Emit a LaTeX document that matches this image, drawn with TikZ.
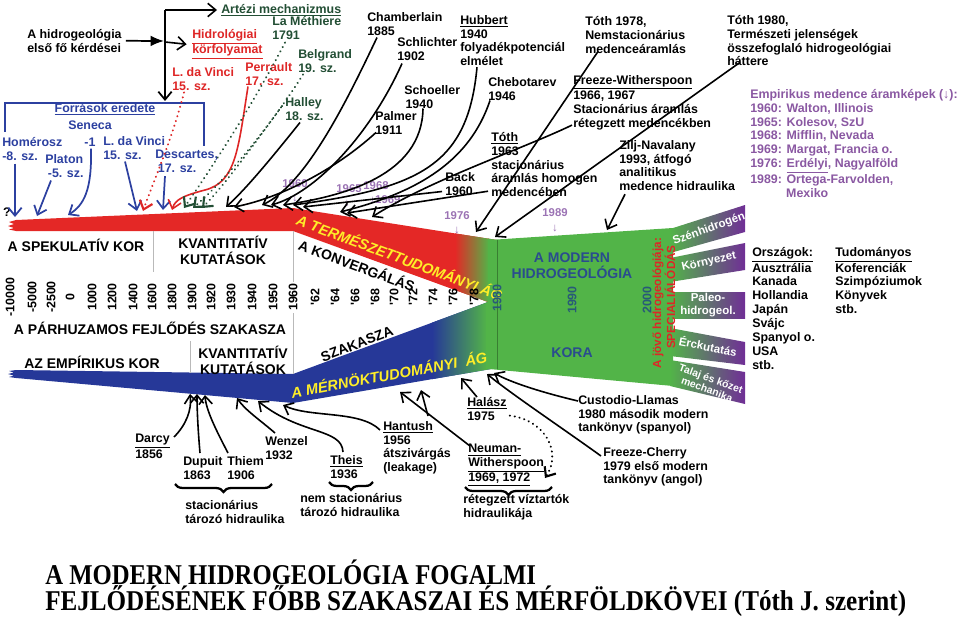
\documentclass[tikz,border=0pt]{standalone}
\usepackage{fontspec}
\usetikzlibrary{arrows.meta,decorations.pathreplacing}
\newfontfamily\lab{Liberation Sans}
\newfontfamily\ttl{Liberation Serif}
\definecolor{bred}{RGB}{228,40,38}
\definecolor{bgreen}{RGB}{82,180,72}
\definecolor{bblue}{RGB}{38,56,152}
\definecolor{bpurple}{RGB}{112,46,150}
\definecolor{tblue}{RGB}{44,64,160}
\definecolor{tred}{RGB}{222,38,38}
\definecolor{dgreen}{RGB}{34,78,52}
\definecolor{lpurple}{RGB}{155,115,180}
\definecolor{epurple}{RGB}{138,88,162}
\definecolor{mblue}{RGB}{42,76,142}
\definecolor{yel}{RGB}{255,238,40}
\definecolor{yteal}{RGB}{40,90,120}
\begin{document}
\begin{tikzpicture}[x=0.75pt,y=-0.75pt,
  lbl/.style={font=\lab\bfseries\fontsize{9.3}{10.4}\selectfont, inner sep=0pt, align=left, anchor=north west},
  big/.style={font=\lab\bfseries\fontsize{10.5}{12}\selectfont, inner sep=0pt, align=center},
  yrl/.style={font=\lab\bfseries\fontsize{9.3}{10}\selectfont, inner sep=0pt, rotate=90},
  pyr/.style={font=\lab\bfseries\fontsize{8.5}{9}\selectfont, inner sep=0pt, text=lpurple},
  brl/.style={font=\lab\bfseries\fontsize{8.6}{9.4}\selectfont, inner sep=0pt, text=white, align=center},
  tip/.style={-{Straight Barb[length=6pt,width=10pt]}},
  karr/.style={draw=black, line width=1.2pt, tip},
  barr/.style={draw=tblue, line width=1.3pt, tip},
  rarr/.style={draw=tred, line width=1.2pt, tip},
  dotk/.style={line width=1.6pt, dash pattern=on 0.1pt off 3.6pt, line cap=round, tip},
  brc/.style={line width=1.7pt, decorate, decoration={brace, amplitude=6pt, mirror}},
  gline/.style={draw=gray!55, line width=0.6pt}]
\useasboundingbox (0,0) rectangle (960,617);

% ---------------- bands ----------------
\fill[bred] (16,220) -- (293,208) -- (497,240) -- (497,302) -- (488,302) -- (293,231) -- (16,231) -- (9,229.5) -- (14,228) -- (8,226) -- (14,224) -- (9,222) -- cycle;
\fill[bblue] (16,370) -- (293,374) -- (488,302) -- (497,302) -- (497,368) -- (293,403) -- (16,378) -- (9,377) -- (14,375.5) -- (8,374) -- (14,372.5) -- (9,371) -- cycle;
\begin{scope}
  \clip (293,208) -- (497,240) -- (497,302) -- (488,302) -- (293,231) -- cycle;
  \shade[left color=bred, right color=bgreen] (455,195) rectangle (489,310);
  \fill[bgreen] (488,195) rectangle (500,310);
\end{scope}
\begin{scope}
  \clip (293,374) -- (488,302) -- (497,302) -- (497,368) -- (293,403) -- cycle;
  \shade[left color=bblue, right color=bgreen] (432,290) rectangle (487,410);
  \fill[bgreen] (486,290) rectangle (500,410);
\end{scope}
\fill[bgreen] (489,240) -- (673,228) -- (673,386) -- (489,369) -- cycle;
\draw[bgreen!70!black, line width=0.5pt] (497,240) -- (497,369);
% branches
\shade[left color=bgreen, right color=bpurple] (670,229) -- (745,205) -- (745,232) -- (670,253) -- cycle;
\shade[left color=bgreen, right color=bpurple] (670,258) -- (745,243) -- (745,270) -- (670,282) -- cycle;
\shade[left color=bgreen, right color=bpurple] (670,292) -- (745,292) -- (745,318) -- (670,318) -- cycle;
\shade[left color=bgreen, right color=bpurple] (670,328) -- (745,342) -- (745,365) -- (670,356) -- cycle;
\shade[left color=bgreen, right color=bpurple] (670,360) -- (745,372) -- (745,404) -- (670,386) -- cycle;

% gray separators
\draw[gline] (153,231) -- (153,272);
\draw[gline] (293,231) -- (293,282);
\draw[gline] (293,313) -- (293,374);
\draw[gline] (190,341) -- (190,373);

% ---------------- band texts ----------------
\node[big] (spek) at (76,245) {A SPEKULATÍV KOR};
\node[big] (kv1) at (223,250) {KVANTITATÍV\\KUTATÁSOK};
\node[big] (parh) at (150,328) {A PÁRHUZAMOS FEJLŐDÉS SZAKASZA};
\node[big] (empk) at (92,362) {AZ EMPÍRIKUS KOR};
\node[big] (kv2) at (243,360) {KVANTITATÍV\\KUTATÁSOK};
\node[big, rotate=-20.5] (konv) at (357,265) {A KONVERGÁLÁS};
\node[big, rotate=21] (szak) at (357,344) {SZAKASZA};
\node[font=\lab\bfseries\itshape\fontsize{11}{12}\selectfont, inner sep=0pt, text=yel, rotate=-20.5] (termesz) at (400,257) {A TERMÉSZETTUDOMÁNYI ÁG};
\node[font=\lab\bfseries\itshape\fontsize{11}{12}\selectfont, inner sep=0pt, text=yel, rotate=10.5] (merno) at (389,374) {A MÉRNÖKTUDOMÁNYI\ \ ÁG};

% years
\foreach \yx/\yt in {10/-10000,32/-5000,51/-2500,70/0,92/1000,112/1200,133/1400,152/1600,172/1800,192/1900,211/1920,231/1930,252/1940,273/1950,293/1960,315/'62,335/'64,355/'66,375/'68,394/'70,413/'72,433/'74,453/'76,474/'78}
  \node[yrl] (yr\yx) at (\yx,297) {\yt};
\node[yrl, text=yteal] (y1980) at (497,298) {1980};
\node[yrl, text=yteal] (y1990) at (572,300) {1990};
\node[yrl, text=yteal] (y2000) at (647,300) {2000};
\node[font=\lab\bfseries\fontsize{8.8}{9.5}\selectfont, inner sep=0pt, text=tred, rotate=90] (jovo) at (658,303) {A jövő hidrogeológiája:};
\node[font=\lab\bfseries\fontsize{8.8}{9.5}\selectfont, inner sep=0pt, text=tred, rotate=90] (spec) at (670,297) {SPECIALIÁLÓDÁS};
\node[big, text=mblue] (modern) at (572,266) {A MODERN\\HIDROGEOLÓGIA};
\node[big, text=mblue] (kora) at (572,353) {KORA};

% branch labels
\node[brl, rotate=20] (szh) at (709,229) {Szénhidrogén};
\node[brl, rotate=13] (korny) at (709,262) {Környezet};
\node[brl] (paleo) at (708,305) {Paleo-\\hidrogeol.};
\node[brl, rotate=-11] (erc) at (708,346) {Érckutatás};
\node[brl, rotate=-20, font=\lab\bfseries\fontsize{7.8}{8.4}\selectfont] (talaj) at (709,384) {Talaj és kőzet\\mechanika};

% purple year markers
\node[pyr] (p60) at (295,184) {1960};
\node[pyr] (p60a) at (295,198) {↓};
\node[pyr] (p65) at (349,189) {1965};
\node[pyr] (p65a) at (347,203) {↓};
\node[pyr] (p68) at (376,186) {1968};
\node[pyr] (p69) at (385,200) {↓1969};
\node[pyr] (p76) at (457,216) {1976};
\node[pyr] (p76a) at (457,230) {↓};
\node[pyr] (p89) at (555,213) {1989};
\node[pyr] (p89a) at (555,228) {↓};

% ---------------- top-left labels ----------------
\node[lbl] (hq) at (27,29) {A hidrogeológia\\első fő kérdései};
\node[lbl, anchor=west, text=dgreen] (artezi) at (221,10) {\underline{Artézi mechanizmus}};
\node[lbl, text=tred] (hidro) at (192,29) {\underline{Hidrológiai}\\\underline{körfolyamat}};
\node[lbl, text=tred] (vinciR) at (172,67) {L. da Vinci\\15. sz.};
\node[lbl, text=tred] (perr) at (245,62) {Perrault\\17. sz.};
\node[lbl, text=dgreen] (meth) at (272,16) {La Méthiere\\1791};
\node[lbl, text=dgreen] (belg) at (298,49) {Belgrand\\19. sz.};
\node[lbl, text=dgreen] (halley) at (285,97) {Halley\\18. sz.};
\node[lbl, anchor=center, text=tblue] (forr) at (105,109) {\underline{Források eredete}};
\node[lbl, text=tblue] (seneca) at (68,121) {Seneca};
\node[lbl, text=tblue, anchor=center] (sen1) at (90,142) {-1};
\node[lbl, text=tblue] (homer) at (2,137) {Homérosz\\-8. sz.};
\node[lbl, text=tblue] (platon) at (45,154) {Platon\\\hspace{2pt}-5. sz.};
\node[lbl, text=tblue] (vinciB) at (103,136) {L. da Vinci\\15. sz.};
\node[lbl, text=tblue] (desc) at (155,150) {Descartes,\\\hspace{2pt}17. sz.};
\node[lbl, anchor=center] (qm) at (7,212) {?};

% ---------------- top labels ----------------
\node[lbl] (chamb) at (367,12) {Chamberlain\\1885};
\node[lbl] (schl) at (397,37) {Schlichter\\1902};
\node[lbl] (hubb) at (460,15) {\underline{Hubbert}\\1940\\folyadékpotenciál\\elmélet};
\node[lbl] (schoe) at (404,85) {Schoeller\\\hspace{1pt}1940};
\node[lbl] (palmer) at (375,111) {Palmer\\1911};
\node[lbl] (cheb) at (488,77) {Chebotarev\\1946};
\node[lbl] (back) at (445,172) {Back\\1960};
\node[lbl] (toth63) at (491,132) {\underline{Tóth}\\1963\\stacionárius\\áramlás homogen\\medencében};
\node[lbl] (toth78) at (585,16) {Tóth 1978,\\Nemstacionárius\\medenceáramlás};
\node[lbl] (toth80) at (727,15) {Tóth 1980,\\Természeti jelenségek\\összefoglaló hidrogeológiai\\háttere};
\node[lbl] (fw) at (573,75) {\underline{Freeze-Witherspoon}\\1966, 1967\\Stacionárius áramlás\\rétegzett medencékben};
\node[lbl] (zilj) at (619,140) {Zilj-Navalany\\1993, átfogó\\analitikus\\medence hidraulika};
\node[lbl, text=epurple] (emp) at (750,89) {Empirikus medence áramképek (↓):\\1960: Walton, Illinois\\1965: Kolesov, SzU\\1968: Mifflin, Nevada\\1969: Margat, Francia o.\\1976: \underline{Erdélyi}, Nagyalföld\\1989: Ortega-Farvolden,\\\hspace{2.9em}Mexiko};

% right lists
\node[lbl] (orsz) at (752,247) {\underline{Országok:}\\Ausztrália\\Kanada\\Hollandia\\Japán\\Svájc\\Spanyol o.\\USA\\stb.};
\node[lbl] (tud) at (835,247) {\underline{Tudományos}\\Koferenciák\\Szimpóziumok\\Könyvek\\stb.};

% ---------------- bottom labels ----------------
\node[lbl] (darcy) at (135,434) {\underline{Darcy}\\1856};
\node[lbl] (dupuit) at (183,456) {Dupuit\\1863};
\node[lbl] (thiem) at (227,456) {Thiem\\1906};
\node[lbl] (wenzel) at (265,436) {Wenzel\\1932};
\node[lbl] (stat) at (185,500) {stacionárius\\tározó hidraulika};
\node[lbl] (theis) at (330,455) {\underline{Theis}\\1936};
\node[lbl] (nemstat) at (300,493) {nem stacionárius\\tározó hidraulika};
\node[lbl] (hantush) at (383,421) {\underline{Hantush}\\1956\\átszivárgás\\(leakage)};
\node[lbl] (halasz) at (467,397) {\underline{Halász}\\1975};
\node[lbl] (neuman) at (468,444) {\underline{Neuman-}\\\underline{Witherspoon}\\\underline{1969, 1972}};
\node[lbl] (reteg) at (463,494) {rétegzett víztartók\\hidraulikája};
\node[lbl] (cust) at (578,395) {Custodio-Llamas\\1980 második modern\\tankönyv (spanyol)};
\node[lbl] (fch) at (603,447) {Freeze-Cherry\\1979 első modern\\tankönyv (angol)};

% braces
\draw[brc] (175,484) -- (272,484);
\draw[brc] (329,482) -- (373,482);
\draw[brc] (465,487) -- (552,487);

% title
\node[anchor=west, inner sep=0pt, font=\ttl\bfseries\fontsize{21.5}{24}\selectfont] (title1) at (45,572) {\scalebox{0.862}[1]{A MODERN HIDROGEOLÓGIA FOGALMI}};
\node[anchor=west, inner sep=0pt, font=\ttl\bfseries\fontsize{21.5}{24}\selectfont] (title2) at (45,601) {\scalebox{0.876}[1]{FEJLŐDÉSÉNEK FŐBB SZAKASZAI ÉS MÉRFÖLDKÖVEI (Tóth J. szerint)}};

% ---------------- coordinates ----------------
\coordinate (jTop) at (165,10);
\coordinate (jMid) at (165,42);
\coordinate (jL) at (164,41);
\coordinate (jBot) at (165,101);
\coordinate (tHom) at (15,217);
\coordinate (tPla) at (37,216);
\coordinate (tSen) at (68,215);
\coordinate (tVinB) at (137,211);
\coordinate (tDes) at (163,210);
\coordinate (tVinR) at (143,211);
\coordinate (tPer) at (172,210);
\coordinate (tMet) at (184,208);
\coordinate (tBel) at (193,208);
\coordinate (tHalD) at (202,208);
\coordinate (tHal) at (226,207);
\coordinate (tPal) at (234,207);
\coordinate (tCha) at (262,205);
\coordinate (tSch) at (271,205);
\coordinate (tSchoe) at (283,205);
\coordinate (tHub) at (293,205);
\coordinate (tBack) at (303,207);
\coordinate (tCheb) at (340,212);
\coordinate (tT63) at (347,213);
\coordinate (tFW) at (372,217);
\coordinate (tT78) at (476,232);
\coordinate (tT80) at (495,237);
\coordinate (tZilj) at (607,230);
\coordinate (tDar) at (190,394);
\coordinate (tDup) at (197,394);
\coordinate (tThi) at (205,395);
\coordinate (tWen) at (237,398);
\coordinate (tThe) at (258,401);
\coordinate (tHan) at (283,405);
\coordinate (tNeu1) at (400,392);
\coordinate (nBr) at (428,416);
\coordinate (tNeu2) at (421,390);
\coordinate (tHal2) at (461,378);
\coordinate (tCus) at (494,373);
\coordinate (tFC) at (487,374);
\coordinate (tDot) at (545,478);

% ---------------- connectors ----------------
\draw[line width=1.3pt, -{Latex[length=10pt,width=8pt]}] ([xshift=3pt]hq.east) -- (jL);
\draw[line width=1.3pt, tip] (jTop) -- (jBot);
\draw[karr] (jTop) -- ([xshift=-3pt]artezi.west);
\draw[karr] (jMid) -- ([xshift=-4pt]hidro.west);
\draw[tblue, line width=1.5pt] (5,132) -- (5,103) -- (204,103) -- (204,146);

% blue
\draw[barr] (homer.south west) ++(13,3) -- (tHom);
\draw[barr] (platon.south west) ++(6,3) -- (tPla);
\draw[barr] (sen1.south) ++(1,2) .. controls (92,190) and (84,205) .. (tSen);
\draw[barr] (vinciB.south west) ++(22,2) -- (tVinB);
\draw[barr] (desc.south west) ++(10,3) -- (tDes);
% red
\draw[dotk, tred] (vinciR.south west) ++(12,2) .. controls (172,140) and (152,185) .. (tVinR);
\draw[rarr] (perr.south west) ++(3,1) .. controls (238,150) and (236,182) .. (205,190) .. controls (182,196) and (175,200) .. (tPer);
% dark green dotted
\draw[dotk, dgreen] (meth.south west) ++(13,3) .. controls (250,110) and (210,170) .. (tMet);
\draw[dotk, dgreen] (belg.south west) ++(5,2) .. controls (268,130) and (225,180) .. (tBel);
\draw[dotk, dgreen] (halley.north west) ++(-3,9) .. controls (250,150) and (222,188) .. (tHalD);
% black
\draw[karr] (halley.south west) ++(15,2) .. controls (270,160) and (245,190) .. (tHal);
\draw[karr] (palmer.south west) ++(1,-2) .. controls (335,170) and (280,198) .. (tPal);
\draw[karr] (chamb.south west) ++(10,2) .. controls (345,105) and (305,185) .. (tCha);
\draw[karr] (schl.south west) ++(5,3) .. controls (370,135) and (315,193) .. (tSch);
\draw[karr] (schoe.south west) ++(19,0) .. controls (422,175) and (345,196) .. (tSchoe);
\draw[karr] (hubb.south west) ++(17,1) .. controls (468,165) and (420,188) .. (tHub);
\draw[karr] (back.south west) ++(-3,-4) -- (tBack);
\draw[karr] (cheb.south west) ++(2,0) .. controls (470,160) and (420,192) .. (tCheb);
\draw[karr] (toth63.south west) ++(-3,-6) -- (tT63);
\draw[karr] (fw.south west) ++(-1,-5) .. controls (520,150) and (430,180) .. (tFW);
\draw[karr] (toth78.south west) ++(13,-2) -- (tT78);
\draw[karr] (toth80.south west) ++(13,-4) -- (tT80);
\draw[karr] (zilj.south west) ++(6,3) -- (tZilj);
% bottom
\draw[karr] (darcy.north east) ++(4,3) .. controls (186,425) and (192,410) .. (tDar);
\draw[karr] (dupuit.north west) ++(17,-3) .. controls (198,430) and (197,410) .. (tDup);
\draw[karr] (thiem.north west) ++(1,-3) .. controls (216,430) and (206,410) .. (tThi);
\draw[karr] (wenzel.north west) ++(10,-3) .. controls (260,420) and (245,410) .. (tWen);
\draw[karr] (theis.north west) ++(13,-3) .. controls (342,428) and (300,435) .. (tThe);
\draw[karr] (hantush.north west) ++(-3,9) .. controls (360,410) and (310,418) .. (tHan);
\draw[karr] (neuman.north west) ++(2,2) -- (tNeu1);
\draw[karr] (nBr) -- (tNeu2);
\draw[karr] (halasz.north west) ++(10,0) -- (tHal2);
\draw[dotk, black] (halasz.south east) ++(3,-5) .. controls (545,420) and (562,452) .. (tDot);
\draw[karr] (cust.north west) ++(0,6) .. controls (540,392) and (510,382) .. (tCus);
\draw[karr] (fch.north west) ++(-2,9) .. controls (565,430) and (510,393) .. (tFC);
\end{tikzpicture}
\end{document}
